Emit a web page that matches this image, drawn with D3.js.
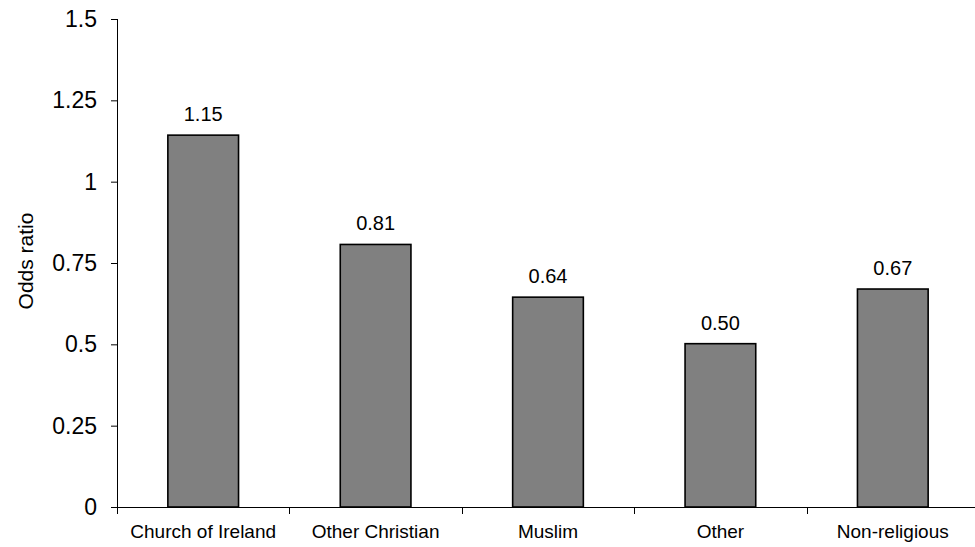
<!DOCTYPE html>
<html>
<head>
<meta charset="utf-8">
<script src="https://cdn.jsdelivr.net/npm/d3@7"></script>
<style>
  body { margin: 0; background: #fff; }
  svg { display: block; font-family: "Liberation Sans", Arial, sans-serif; }
</style>
</head>
<body>
<div id="chart-area"></div>
<script>
// data
var categories = ['Church of Ireland', 'Other Christian', 'Muslim', 'Other', 'Non-religious'];
var values = [1.143, 0.807, 0.645, 0.502, 0.670];
var valueLabels = ['1.15', '0.81', '0.64', '0.50', '0.67'];
var yTicks = [0, 0.25, 0.5, 0.75, 1, 1.25, 1.5];
var yTickLabels = ['0', '0.25', '0.5', '0.75', '1', '1.25', '1.5'];

var outerWidth = 975;
var outerHeight = 547;
var margin = {left: 117, right: -4, top: 19, bottom: 40};
var innerWidth = outerWidth - margin.left - margin.right;
var innerHeight = outerHeight - margin.top - margin.bottom;

var svg = d3.select('#chart-area').append('svg')
            .attr('width', outerWidth)
            .attr('height', outerHeight)
            .style('overflow', 'hidden');

var g = svg.append('g')
           .attr('transform', 'translate(' + margin.left + ',' + margin.top + ')');

// scales
var xScale = d3.scaleBand()
               .domain(categories)
               .range([0, innerWidth])
               .paddingInner(0.59)
               .paddingOuter(0.295);

var yScale = d3.scaleLinear()
               .domain([0, 1.5])
               .range([innerHeight, 0]);

// y axis: line and ticks from d3.axisLeft, labels drawn separately
var yAxis = d3.axisLeft(yScale)
              .tickValues(yTicks)
              .tickSize(6)
              .tickFormat('');

var yAxisG = g.append('g')
              .attr('class', 'y axis')
              .call(yAxis);
yAxisG.select('.domain').attr('stroke', '#000').attr('d', 'M0.5,0V' + innerHeight);
yAxisG.selectAll('.tick line').attr('stroke', '#000');
yAxisG.selectAll('.tick text').remove();

g.selectAll('.ylabel')
 .data(yTicks)
 .enter().append('text')
 .attr('class', 'ylabel')
 .attr('x', -20)
 .attr('y', function(d) { return yScale(d); })
 .attr('dy', '0.35em')
 .attr('text-anchor', 'end')
 .attr('font-size', '23px')
 .attr('fill', '#000')
 .text(function(d, i) { return yTickLabels[i]; });

// x axis: ticks sit on the category boundaries
var step = xScale.step();
var boundaries = d3.range(categories.length + 1).map(function(i) { return i * step; });

var xAxisG = g.append('g')
              .attr('class', 'x axis')
              .attr('transform', 'translate(0,' + innerHeight + ')');

xAxisG.append('line')
      .attr('x1', 0)
      .attr('x2', innerWidth)
      .attr('y1', 0.5)
      .attr('y2', 0.5)
      .attr('stroke', '#000');

xAxisG.selectAll('.xtick')
      .data(boundaries)
      .enter().append('line')
      .attr('class', 'xtick')
      .attr('x1', function(d) { return Math.round(d) + 0.5; })
      .attr('x2', function(d) { return Math.round(d) + 0.5; })
      .attr('y1', 0)
      .attr('y2', 7)
      .attr('stroke', '#000');

xAxisG.selectAll('.xlabel')
      .data(categories)
      .enter().append('text')
      .attr('class', 'xlabel')
      .attr('x', function(d) { return xScale(d) + xScale.bandwidth() / 2; })
      .attr('y', 31)
      .attr('text-anchor', 'middle')
      .attr('font-size', '19px')
      .attr('fill', '#000')
      .text(function(d) { return d; });

// bars
g.selectAll('.bar')
 .data(values)
 .enter().append('rect')
 .attr('class', 'bar')
 .attr('x', function(d, i) { return xScale(categories[i]); })
 .attr('y', function(d) { return yScale(d); })
 .attr('width', xScale.bandwidth())
 .attr('height', function(d) { return innerHeight - yScale(d); })
 .attr('fill', '#808080')
 .attr('stroke', '#000')
 .attr('stroke-width', 1.6);

// value labels above bars
g.selectAll('.value')
 .data(values)
 .enter().append('text')
 .attr('class', 'value')
 .attr('x', function(d, i) { return xScale(categories[i]) + xScale.bandwidth() / 2; })
 .attr('y', function(d) { return yScale(d) - 14; })
 .attr('text-anchor', 'middle')
 .attr('font-size', '20px')
 .attr('fill', '#000')
 .text(function(d, i) { return valueLabels[i]; });

// y axis label
svg.append('text')
   .attr('transform', 'translate(33,' + 261 + ') rotate(-90)')
   .attr('text-anchor', 'middle')
   .attr('font-size', '21px')
   .attr('fill', '#000')
   .text('Odds ratio');
</script>
</body>
</html>
